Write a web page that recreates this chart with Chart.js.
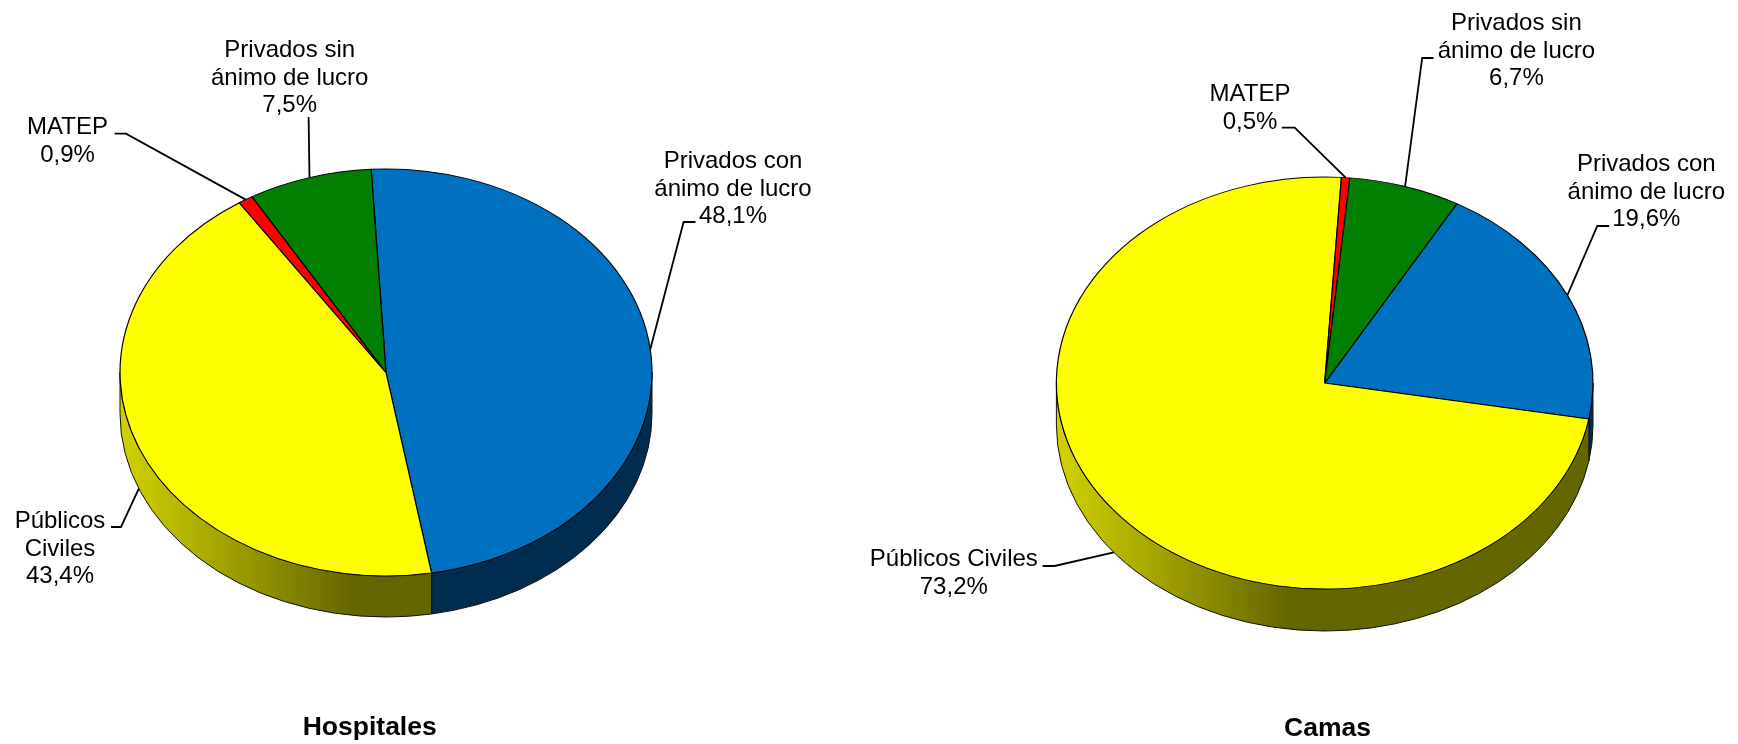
<!DOCTYPE html>
<html><head><meta charset="utf-8">
<style>html,body{margin:0;padding:0;background:#fff;overflow:hidden}canvas{position:absolute;top:0}</style>
<script src="https://cdn.jsdelivr.net/npm/chart.js@4/dist/chart.umd.min.js"></script>
</head><body>
<canvas id="a" width="860" height="744" style="left:0"></canvas>
<canvas id="b" width="878" height="744" style="left:860px"></canvas>
<script>
const categories = ['Privados con ánimo de lucro','Públicos Civiles','MATEP','Privados sin ánimo de lucro'];
const hospitalesValues = [48.1,43.4,0.9,7.5];
const camasValues = [19.6,73.2,0.5,6.7];
const sliceColors = ['#0070C0','#FFFF00','#FF0000','#007F00'];
const sideColors = ['#002C4E',null,'#660000','#003300'];

const pct = v => v.toFixed(1).replace('.',',')+'%';

// label layouts: text lines, centre x, first baseline y, leader start and elbow
const hospitalesLayout = [
  {lines:['Privados con','ánimo de lucro'],x:733,y:168,from:[695.5,222],elbow:[683.6,222]},
  {lines:['Públicos','Civiles'],x:60,y:528,from:[111,527],elbow:[121,527]},
  {lines:['MATEP'],x:67.5,y:134,from:[114.6,133.7],elbow:[126,133.7]},
  {lines:['Privados sin','ánimo de lucro'],x:289.7,y:57,from:null,elbow:[308.6,117]}
];
const camasLayout = [
  {lines:['Privados con','ánimo de lucro'],x:1646.3-860,y:171,from:[1609.2-860,226],elbow:[1597.3-860,226]},
  {lines:['Públicos Civiles'],x:953.8-860,y:566,from:[1042.6-860,566],elbow:[1054.5-860,566]},
  {lines:['MATEP'],x:1250-860,y:101,from:[1281.8-860,127.7],elbow:[1294.7-860,127.7]},
  {lines:['Privados sin','ánimo de lucro'],x:1516.4-860,y:30,from:[1433.6-860,58],elbow:[1422.2-860,58]}
];

const pie3d = {
  id:'pie3d',
  beforeDatasetsDraw(chart,args,o){
    const ctx=chart.ctx, arcs=chart.getDatasetMeta(0).data;
    const {x:cx,y:cy,outerRadius:r}=arcs[0];
    const k=o.squash, ry=r*k, d=o.depth;
    ctx.save();
    arcs.forEach((arc,i)=>{
      const a=Math.max(arc.startAngle,0), b=Math.min(arc.endAngle,Math.PI);
      if(b<=a) return;
      ctx.beginPath();
      ctx.ellipse(cx,cy,r,ry,0,a,b);
      ctx.ellipse(cx,cy+d,r,ry,0,b,a,true);
      ctx.closePath();
      if(i===1){
        const g=ctx.createLinearGradient(cx-r,0,cx-r+o.gradWidth,0);
        g.addColorStop(0,'#D2D200'); g.addColorStop(1,'#666600');
        ctx.fillStyle=g;
      } else ctx.fillStyle=sideColors[i];
      ctx.fill();
      ctx.lineWidth=1; ctx.strokeStyle='#111'; ctx.stroke();
    });
    ctx.restore();
    ctx.save();
    ctx.translate(cx,cy); ctx.scale(1,k); ctx.translate(-cx,-cy);
  },
  afterDatasetsDraw(chart,args,o){
    const ctx=chart.ctx, arcs=chart.getDatasetMeta(0).data;
    ctx.restore();
    const {x:cx,y:cy,outerRadius:r}=arcs[0];
    const k=o.squash, d=o.depth;
    const ds=chart.data.datasets[0].data;
    ctx.save();
    ctx.fillStyle='#000';
    ctx.font='24px "Liberation Sans"';
    ctx.textAlign='center'; ctx.textBaseline='alphabetic';
    o.layout.forEach((l,i)=>{
      const lines=[...l.lines,pct(ds[i])];
      lines.forEach((t,j)=>ctx.fillText(t,l.x,l.y+j*27.6));
      const m=(arcs[i].startAngle+arcs[i].endAngle)/2;
      let ex=cx+r*Math.cos(m), ey=cy+r*k*Math.sin(m);
      if(Math.sin(m)>0) ey+=d;
      ctx.beginPath();
      if(l.from) ctx.moveTo(l.from[0],l.from[1]); else ctx.moveTo(l.elbow[0],l.elbow[1]);
      ctx.lineTo(l.elbow[0],l.elbow[1]);
      ctx.lineTo(ex,ey);
      ctx.lineWidth=1.8; ctx.strokeStyle='#000'; ctx.stroke();
    });
    ctx.font='bold 26.5px "Liberation Sans"';
    ctx.fillText(o.title,o.titleX,o.titleY);
    ctx.restore();
  }
};

function make(id,values,rotation,radius,padding,p){
  return new Chart(document.getElementById(id),{
    type:'pie',
    data:{labels:categories,datasets:[{data:values,backgroundColor:sliceColors,borderColor:'#000',borderWidth:1.2}]},
    options:{
      responsive:false,animation:false,rotation,radius,
      layout:{padding},
      plugins:{legend:{display:false},tooltip:{enabled:false},title:{display:false},pie3d:p}
    },
    plugins:[pie3d]
  });
}
make('a',hospitalesValues,-3.2,266,{right:88,top:1},
  {squash:203.5/266,depth:41,gradWidth:233,layout:hospitalesLayout,title:'Hospitales',titleX:369.7,titleY:735});
make('b',camasValues,29.5,268.3,{left:51.4,top:22},
  {squash:206/268.3,depth:42,gradWidth:232,layout:camasLayout,title:'Camas',titleX:1327.5-860,titleY:736});
</script>
</body></html>
